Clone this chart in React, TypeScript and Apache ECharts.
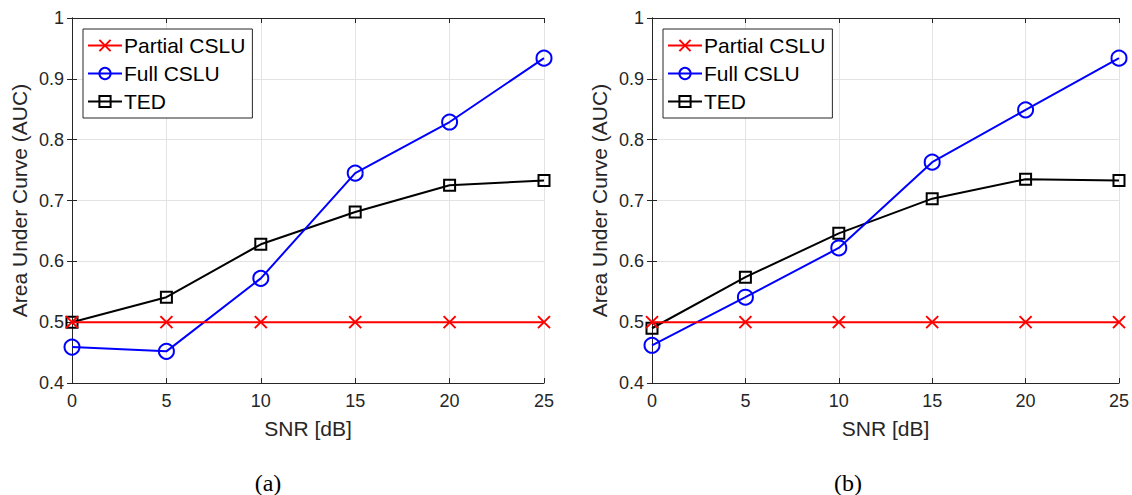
import React, { useEffect, useRef } from "react";
import * as echarts from "echarts";

const snr = [0, 5, 10, 15, 20, 25];
const partialA = [0.5, 0.5, 0.5, 0.5, 0.5, 0.5];
const fullA = [0.459, 0.452, 0.572, 0.745, 0.829, 0.934];
const tedA = [0.5, 0.541, 0.628, 0.681, 0.725, 0.733];
const partialB = [0.5, 0.5, 0.5, 0.5, 0.5, 0.5];
const fullB = [0.462, 0.541, 0.622, 0.763, 0.849, 0.934];
const tedB = [0.49, 0.574, 0.646, 0.703, 0.735, 0.733];
const captions = ["(a)", "(b)"];
const seriesNames = ["Partial CSLU", "Full CSLU", "TED"];

const FONT = "Liberation Sans";
const AX = "#262626";
const CROSS = "path://M0,0L10,10M10,0L0,10";

export default function App() {
  const ref = useRef<HTMLDivElement>(null);
  useEffect(() => {
    if (!ref.current) return;
    const chart = echarts.init(ref.current, null, { renderer: "svg" });
    const grids = [
      { left: 72, top: 18, width: 472, height: 365 },
      { left: 652, top: 18, width: 471, height: 365 },
    ];
    const xAxes: any[] = [];
    const yAxes: any[] = [];
    grids.forEach((_, i) => {
      xAxes.push({
        type: "value", gridIndex: i, min: 0, max: 25, interval: 5,
        name: "SNR [dB]", nameLocation: "middle", nameGap: 35,
        nameTextStyle: { fontFamily: FONT, fontSize: 21, color: AX },
        axisLine: { show: true, lineStyle: { color: AX } },
        axisTick: { show: true, inside: true, length: 5, lineStyle: { color: AX } },
        axisLabel: { fontFamily: FONT, fontSize: 18, color: AX, margin: 9 },
        splitLine: { show: true, lineStyle: { color: "#e3e3e3" } },
      });
      xAxes.push({
        type: "value", gridIndex: i, min: 0, max: 25, interval: 5, position: "top",
        axisLine: { show: true, lineStyle: { color: AX } },
        axisTick: { show: true, inside: true, length: 5, lineStyle: { color: AX } },
        axisLabel: { show: false }, splitLine: { show: false },
      });
      yAxes.push({
        type: "value", gridIndex: i, min: 0.4, max: 1, interval: 0.1,
        name: "Area Under Curve (AUC)", nameLocation: "middle", nameGap: 42,
        nameTextStyle: { fontFamily: FONT, fontSize: 21, color: AX },
        axisLine: { show: true, lineStyle: { color: AX } },
        axisTick: { show: true, inside: true, length: 5, lineStyle: { color: AX } },
        axisLabel: { fontFamily: FONT, fontSize: 18, color: AX, margin: 8, formatter: (v: number) => String(+v.toFixed(1)) },
        splitLine: { show: true, lineStyle: { color: "#e3e3e3" } },
      });
      yAxes.push({
        type: "value", gridIndex: i, min: 0.4, max: 1, interval: 0.1, position: "right",
        axisLine: { show: true, lineStyle: { color: AX } },
        axisTick: { show: true, inside: true, length: 5, lineStyle: { color: AX } },
        axisLabel: { show: false }, splitLine: { show: false },
      });
    });
    const data = [
      [partialA, fullA, tedA],
      [partialB, fullB, tedB],
    ];
    const series: any[] = [];
    data.forEach((set, g) => {
      set.forEach((vals, k) => {
        const color = ["#ff0000", "#0000ff", "#000000"][k];
        const symbol = [CROSS, "circle", "rect"][k];
        const size = [12, 15, 11][k];
        series.push({
          type: "line", name: seriesNames[k], xAxisIndex: g * 2, yAxisIndex: g * 2,
          data: snr.map((x, j) => [x, vals[j]]),
          symbol, symbolSize: size, showAllSymbol: true,
          lineStyle: { color, width: 2 },
          itemStyle: { color: "rgba(0,0,0,0)", borderColor: color, borderWidth: 2 },
          z: 3 - k,
        });
      });
    });
    const legends = grids.map((gr) => ({
      orient: "vertical", left: gr.left + 11, top: 29,
      data: seriesNames,
      itemWidth: 34, itemHeight: 14, itemGap: 7,
      padding: [6, 7, 6, 4],
      borderColor: AX, borderWidth: 1, backgroundColor: "#fff",
      textStyle: { fontFamily: FONT, fontSize: 21, color: "#000", padding: [0, 0, 0, -3] },
      selectedMode: false,
    }));
    chart.setOption({
      animation: false,
      backgroundColor: "#fff",
      grid: grids.map((g) => ({ ...g, show: false })),
      xAxis: xAxes,
      yAxis: yAxes,
      legend: legends,
      series,
      graphic: captions.map((c, i) => ({
        type: "text", x: [268, 848][i], y: 483,
        style: { text: c, fontFamily: "Liberation Serif", fontSize: 24, fill: "#000", textAlign: "center", textVerticalAlign: "middle" },
      })),
    });
    return () => chart.dispose();
  }, []);
  return <div ref={ref} style={{ position: "absolute", left: 0, top: 0, width: 1132, height: 495 }} />;
}
